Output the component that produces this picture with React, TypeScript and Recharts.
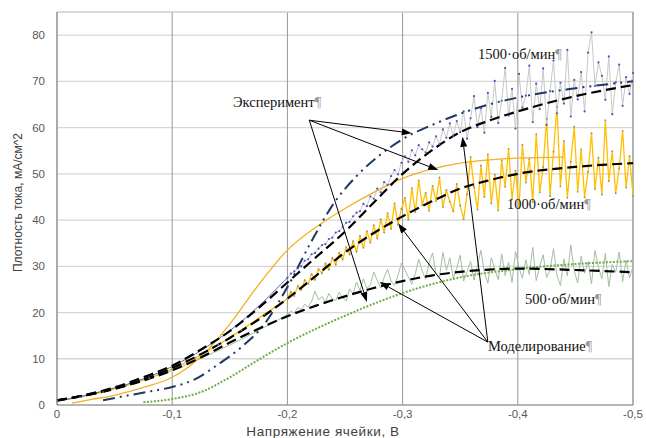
import React from 'react';
import { LineChart, Line, XAxis, YAxis, CartesianGrid, ReferenceLine, ReferenceDot } from 'recharts';

// напряжение, В — начальный участок и шумный участок эксперимента
const uLow = [0, -0.02, -0.04, -0.06, -0.08, -0.1, -0.12, -0.14, -0.16, -0.18];
const uHigh = [
  -0.2, -0.203, -0.206, -0.209, -0.212, -0.215, -0.218, -0.221, -0.224, -0.227,
  -0.23, -0.233, -0.236, -0.239, -0.242, -0.245, -0.248, -0.251, -0.254, -0.257,
  -0.26, -0.263, -0.266, -0.269, -0.272, -0.275, -0.278, -0.281, -0.284, -0.287,
  -0.29, -0.293, -0.296, -0.299, -0.302, -0.305, -0.308, -0.311, -0.314, -0.317,
  -0.32, -0.323, -0.326, -0.329, -0.332, -0.335, -0.338, -0.341, -0.344, -0.347,
  -0.35, -0.353, -0.356, -0.359, -0.362, -0.365, -0.368, -0.371, -0.374, -0.377,
  -0.38, -0.383, -0.386, -0.389, -0.392, -0.395, -0.398, -0.401, -0.404, -0.407,
  -0.41, -0.413, -0.416, -0.419, -0.422, -0.425, -0.428, -0.431, -0.434, -0.437,
  -0.44, -0.443, -0.446, -0.449, -0.452, -0.455, -0.458, -0.461, -0.464, -0.467,
  -0.47, -0.473, -0.476, -0.479, -0.482, -0.485, -0.488, -0.491, -0.494, -0.497,
  -0.5,
];

// эксперимент, мА/см^2
const j1500Low = [0.8, 1.8, 3.0, 4.4, 6.1, 8.3, 11.0, 14.2, 18.0, 22.5];
const j1500High = [
  27.5, 28.4, 28.9, 29.6, 30.0, 31.2, 31.5, 32.6, 32.9, 33.8,
  34.6, 34.8, 35.9, 36.2, 37.3, 37.6, 38.5, 39.4, 39.6, 40.8,
  41.6, 41.9, 43.5, 43.0, 45.1, 44.6, 46.8, 46.0, 48.2, 47.6,
  49.5, 50.8, 49.9, 52.4, 53.8, 52.6, 55.1, 54.0, 56.2, 55.3,
  54.6, 56.8, 55.9, 58.1, 56.4, 59.6, 57.8, 60.9, 58.2, 61.4,
  59.0, 63.5, 57.6, 62.0, 66.8, 60.1, 64.2, 58.9, 67.5, 62.3,
  70.1, 61.0, 65.8, 72.9, 62.6, 68.4, 59.8, 71.6, 64.3, 66.9,
  73.4, 61.2, 69.5, 64.0, 72.8, 60.6, 67.9, 74.5, 63.1, 69.7,
  65.2, 76.8, 62.4, 70.3, 66.1, 72.0, 63.5, 76.2, 80.6, 69.0,
  74.1, 71.2, 66.0, 75.4, 62.9, 69.8, 73.6, 64.7, 70.9, 67.3,
  71.8,
];
const j1000Low = [0.8, 1.7, 2.8, 4.2, 5.8, 7.8, 10.2, 13.0, 16.2, 19.6];
const j1000High = [
  23.0, 24.5, 23.6, 25.8, 24.9, 27.0, 26.2, 28.3, 27.1, 29.4,
  28.5, 30.6, 29.3, 31.8, 30.4, 32.9, 31.5, 34.1, 32.6, 35.4,
  33.2, 36.5, 34.0, 37.6, 35.1, 38.9, 36.0, 40.2, 37.3, 41.5,
  38.1, 43.6, 39.0, 42.4, 44.8, 40.1, 46.9, 41.7, 48.6, 43.2,
  45.9, 42.0, 47.4, 44.1, 49.2, 42.8, 46.5, 44.0, 41.9, 47.8,
  43.1, 40.2, 45.6, 53.6, 47.1, 42.3, 51.8, 45.0, 54.2, 43.6,
  49.8, 42.1, 52.9, 47.2, 55.4, 44.5, 50.7, 42.6, 56.3, 48.1,
  53.2, 43.9, 58.6, 46.0, 51.5, 61.9, 45.2, 54.8, 64.5, 47.3,
  57.1, 44.8, 52.6, 60.2, 46.1, 55.3, 44.9, 50.4, 58.8, 46.7,
  53.5, 45.5, 61.6, 48.4, 54.9, 45.8, 51.2, 59.3, 47.0, 53.8,
  45.3,
];
const j500Low = [0.8, 1.8, 3.0, 4.3, 5.8, 7.5, 9.5, 11.8, 14.2, 16.8];
const j500High = [
  19.5, 20.3, 19.9, 21.1, 20.6, 21.8, 21.2, 22.4, 24.6, 22.7,
  23.5, 22.3, 24.1, 23.0, 22.6, 24.4, 23.2, 22.5, 25.1, 24.0,
  26.6, 24.8, 27.3, 25.2, 26.0, 28.8, 26.9, 25.3, 27.6, 29.4,
  26.8, 25.9, 28.0, 30.7, 29.2, 27.7, 26.1, 28.4, 31.5, 29.0,
  27.2, 30.7, 32.9, 28.3, 27.7, 33.0, 29.1, 31.8, 27.4, 29.6,
  32.4, 26.8, 28.9, 31.1, 27.0, 30.2, 33.5, 28.6, 26.3, 31.9,
  29.4, 27.1, 32.7, 28.0, 30.9, 26.5, 33.2, 29.7, 27.4, 31.4,
  28.2, 34.1, 26.9, 30.0, 32.5, 27.6, 29.3, 33.8, 28.1, 25.8,
  31.6, 27.9, 34.6, 29.0, 26.4, 32.2, 28.5, 31.0, 26.2, 33.4,
  29.8, 27.3, 32.8, 25.6, 30.4, 28.7, 33.1, 26.7, 31.3, 27.5,
  29.9,
];

// моделирование
const uModel = [0, -0.025, -0.05, -0.075, -0.1, -0.125, -0.15, -0.175, -0.2, -0.225, -0.25, -0.275, -0.3, -0.325, -0.35, -0.375, -0.4, -0.45, -0.5];
const m1500 = [1, 2.2, 3.8, 6, 8.5, 12, 16, 21, 26.5, 32, 37.5, 43.8, 50, 55, 59, 61.5, 63.5, 66.8, 69.2];
const m1000 = [1, 2.1, 3.5, 5.5, 8, 11, 14.5, 18.5, 23, 28, 33, 37.2, 40.8, 44, 46.8, 48.6, 50, 51.5, 52.3];
const m500 = [1, 2.1, 3.5, 5.3, 7.5, 10.3, 13.5, 16.5, 19.2, 21.5, 23.5, 25.3, 26.8, 28, 28.8, 29.3, 29.5, 29.2, 28.7];

const uNavy = [-0.04, -0.06, -0.08, -0.1, -0.12, -0.14, -0.16, -0.18, -0.2, -0.22, -0.24, -0.26, -0.28, -0.3, -0.325, -0.35, -0.375, -0.4, -0.45, -0.5];
const jNavy = [1, 2, 2.9, 3.9, 5.6, 8.8, 12.5, 17.5, 25.5, 35, 43.5, 49.5, 54, 57.5, 60.5, 63, 65, 66.5, 68.5, 70];

const uYellow = [-0.013, -0.03, -0.05, -0.075, -0.1, -0.125, -0.15, -0.175, -0.2, -0.225, -0.25, -0.275, -0.3, -0.325, -0.35, -0.375, -0.4, -0.44];
const jYellow = [0.4, 1.2, 2.1, 3.8, 6, 10.5, 17.5, 26, 33.5, 38.5, 42.5, 46, 49, 51, 52.3, 53, 53.4, 53.6];

const uGreen = [-0.075, -0.1, -0.125, -0.15, -0.175, -0.2, -0.225, -0.25, -0.275, -0.3, -0.35, -0.4, -0.45, -0.5];
const jGreen = [0.6, 1.3, 2.8, 6, 9.8, 13.4, 16.5, 19.3, 21.9, 24.2, 27.6, 29.4, 30.5, 31.1];

const xTicks = [0, -0.1, -0.2, -0.3, -0.4, -0.5];
const yTicks = [0, 10, 20, 30, 40, 50, 60, 70, 80];

const pts = (us: number[], ys: number[]) => us.map((u, i) => ({ x: u, y: ys[i] }));

const exp1500Low = pts([...uLow, uHigh[0]], [...j1500Low, j1500High[0]]);
const exp1500High = pts(uHigh, j1500High);
const exp1000 = pts([...uLow, ...uHigh], [...j1000Low, ...j1000High]);
const exp500 = pts([...uLow, ...uHigh], [...j500Low, ...j500High]);

// подписи и стрелки
const notes = [
  { text: 'Эксперимент', x: -0.1528, y: 64.4 },
  { text: '1500·об/мин', x: -0.3655, y: 74.8 },
  { text: '1000·об/мин', x: -0.3906, y: 42.4 },
  { text: '500·об/мин', x: -0.4063, y: 21.8 },
  { text: 'Моделирование', x: -0.3741, y: 11.7 },
];
const expFrom = { x: -0.219, y: 61.6 };
const expTo = [{ x: -0.308, y: 58.8 }, { x: -0.331, y: 50.8 }, { x: -0.269, y: 22.3 }];
const modFrom = { x: -0.374, y: 13.6 };
const modTo = [{ x: -0.296, y: 39.3 }, { x: -0.28, y: 26.6 }, { x: -0.352, y: 58 }];

const Arrow = (p: any) => {
  const { x1, y1, x2, y2 } = p;
  const a = Math.atan2(y2 - y1, x2 - x1);
  const L = 10, W = 3.5;
  const bx = x2 - L * Math.cos(a), by = y2 - L * Math.sin(a);
  const nx = -Math.sin(a) * W, ny = Math.cos(a) * W;
  return (
    <g>
      <line x1={x1} y1={y1} x2={bx} y2={by} stroke="#000" strokeWidth={1} />
      <polygon points={`${x2},${y2} ${bx + nx},${by + ny} ${bx - nx},${by - ny}`} fill="#000" />
    </g>
  );
};

const noteShape = (text: string) => (p: any) => (
  <text x={p.cx} y={p.cy} fontFamily="'Liberation Serif', 'Times New Roman', serif" fontSize={14.5} fill="#111">
    {text}
    <tspan fill="#999">¶</tspan>
  </text>
);

const fmt = (v: number) => (v === 0 ? '0' : String(v).replace('.', ','));
const tickStyle = { fontFamily: "'Liberation Sans', Arial, sans-serif", fontSize: 11.5, fill: '#595959' };

export default function App() {
  return (
    <div style={{ position: 'absolute', left: 0, top: 0, width: 646, height: 438, background: '#fff' }}>
      <LineChart width={646} height={438} margin={{ top: 12, right: 13, bottom: 0, left: 17 }}>
        <CartesianGrid vertical={false} stroke="#d6d6d6" strokeWidth={1.3} />
        <CartesianGrid horizontal={false} stroke="#999" strokeWidth={1} />
        <XAxis
          type="number"
          dataKey="x"
          domain={[-0.5, 0]}
          reversed
          ticks={xTicks}
          tickFormatter={fmt}
          height={33}
          tickLine={false}
          tickSize={3}
          tickMargin={2}
          axisLine={{ stroke: '#8a8a8a' }}
          tick={tickStyle}
          label={{
            content: (p: any) => (
              <text
                x={p.viewBox.x + p.viewBox.width / 2 - 22}
                y={p.viewBox.y + 31}
                textAnchor="middle"
                fontFamily="'Liberation Sans', Arial, sans-serif"
                fontSize={13.5}
                letterSpacing={0.6}
                fill="#404040"
              >
                Напряжение ячейки, В
              </text>
            ),
          }}
        />
        <YAxis
          type="number"
          domain={[0, 85]}
          ticks={yTicks}
          width={40}
          tickLine={false}
          tickSize={6}
          tickMargin={6}
          axisLine={{ stroke: '#8a8a8a' }}
          tick={tickStyle}
          label={{
            content: (p: any) => {
              const cx = 18;
              const cy = p.viewBox.y + p.viewBox.height / 2 - 6;
              return (
                <text
                  x={cx}
                  y={cy}
                  transform={`rotate(-90 ${cx} ${cy})`}
                  textAnchor="middle"
                  dominantBaseline="central"
                  fontFamily="'Liberation Sans', Arial, sans-serif"
                  fontSize={12}
                  fill="#404040"
                >
                  Плотность тока, мА/см^2
                </text>
              );
            },
          }}
        />
        <ReferenceLine y={85} stroke="#d6d6d6" strokeWidth={1.3} />
        <ReferenceLine x={-0.5} stroke="#999" />

        <Line data={exp500} dataKey="y" type="linear" stroke="#a3bfa0" strokeWidth={1} dot={false} activeDot={false} isAnimationActive={false} />
        <Line data={exp1000} dataKey="y" type="linear" stroke="#ffc000" strokeWidth={1.3} dot={{ r: 0.9, fill: '#8c8c8c', stroke: 'none' }} activeDot={false} isAnimationActive={false} />
        <Line data={exp1500Low} dataKey="y" type="linear" stroke="#5266c8" strokeWidth={1} dot={false} activeDot={false} isAnimationActive={false} />
        <Line data={exp1500High} dataKey="y" type="linear" stroke="#c8c8c8" strokeWidth={1} dot={{ r: 1.1, fill: '#5050c8', stroke: 'none' }} activeDot={false} isAnimationActive={false} />

        <Line data={pts(uYellow, jYellow)} dataKey="y" type="monotone" stroke="#f2b124" strokeWidth={1.3} dot={false} activeDot={false} isAnimationActive={false} />
        <Line data={pts(uGreen, jGreen)} dataKey="y" type="monotone" stroke="#70ad47" strokeWidth={2} strokeDasharray="2 1.5" dot={false} activeDot={false} isAnimationActive={false} />
        <Line data={pts(uNavy, jNavy)} dataKey="y" type="monotone" stroke="#1f3864" strokeWidth={2} strokeDasharray="12 5 2 5 2 5" dot={false} activeDot={false} isAnimationActive={false} />
        <Line data={pts(uModel, m1500)} dataKey="y" type="monotone" stroke="#000" strokeWidth={2.2} strokeDasharray="10 5" dot={false} activeDot={false} isAnimationActive={false} />
        <Line data={pts(uModel, m1000)} dataKey="y" type="monotone" stroke="#000" strokeWidth={2.2} strokeDasharray="10 5" dot={false} activeDot={false} isAnimationActive={false} />
        <Line data={pts(uModel, m500)} dataKey="y" type="monotone" stroke="#000" strokeWidth={2.2} strokeDasharray="10 5" dot={false} activeDot={false} isAnimationActive={false} />

        {expTo.map((t, i) => (
          <ReferenceLine key={`e${i}`} segment={[expFrom, t]} shape={Arrow} />
        ))}
        {modTo.map((t, i) => (
          <ReferenceLine key={`m${i}`} segment={[modFrom, t]} shape={Arrow} />
        ))}
        {notes.map((n) => (
          <ReferenceDot key={n.text} x={n.x} y={n.y} r={1} shape={noteShape(n.text)} />
        ))}
      </LineChart>
    </div>
  );
}
